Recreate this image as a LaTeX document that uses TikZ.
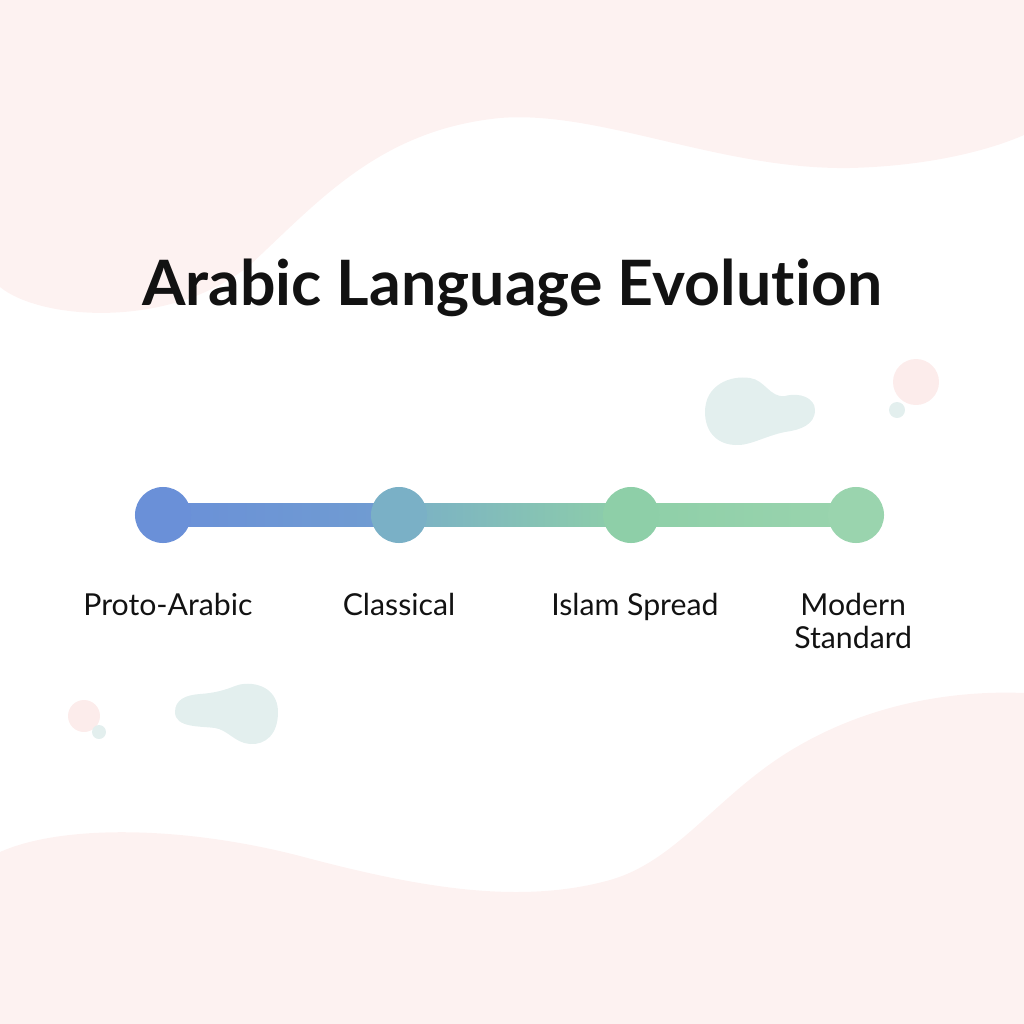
\documentclass[tikz,border=0pt]{standalone}
\usepackage{fontspec}
\setmainfont{Lato}[Ligatures=NoCommon]
\usetikzlibrary{backgrounds}
\definecolor{dotA}{HTML}{6A90D8}
\definecolor{dotB}{HTML}{7AB0C6}
\definecolor{dotC}{HTML}{8ECFA8}
\definecolor{dotD}{HTML}{9AD4AE}
\definecolor{wavepink}{HTML}{FDF2F1}
\definecolor{softpink}{HTML}{FCECEB}
\definecolor{softteal}{HTML}{E3EFEE}
\tikzstyle{dot} = [circle, minimum size=0.56cm, inner sep=0pt]
\tikzstyle{stage} = [inner sep=0pt, align=center, text=black!93, font=\fontsize{8.6pt}{9.4pt}\selectfont]
\tikzstyle{heading} = [inner sep=0pt, text=black!93, font=\fontsize{17.8pt}{22pt}\selectfont\bfseries]
\tikzstyle{wave} = [fill=wavepink]
\tikzstyle{blob} = [fill=softteal]
\tikzstyle{spot} = [fill=softpink]

\begin{document}
\begin{tikzpicture}[x=0.01cm, y=-0.01cm, node distance=0.77cm]
	\useasboundingbox (0,0) rectangle (1024,1024);
	% background waves
	\fill[wave] (0,0) -- (0,287) .. controls (40,320) and (170,330) .. (250,265) .. controls (320,200) and (380,130) .. (500,118) .. controls (600,110) and (720,170) .. (850,168) .. controls (930,166) and (990,150) .. (1024,135) -- (1024,0) -- cycle;
	\fill[wave] (0,852) .. controls (60,825) and (180,825) .. (300,856) .. controls (420,888) and (520,905) .. (610,880) .. controls (680,860) and (720,790) .. (800,745) .. controls (870,705) and (950,690) .. (1024,693) -- (1024,1024) -- (0,1024) -- cycle;
	
	% decorative blobs
	\fill[blob] (705,412) .. controls (705,385) and (730,375) .. (750,378) .. controls (765,380) and (770,398) .. (785,396) .. controls (800,392) and (815,398) .. (815,410) .. controls (815,425) and (800,430) .. (785,432) .. controls (765,436) and (750,446) .. (735,445) .. controls (715,444) and (705,430) .. (705,412) -- cycle;
	\fill[spot] (916,382) circle (23);
	\fill[blob] (897,410) circle (8);
	\fill[blob] (175,712) .. controls (175,700) and (185,695) .. (200,694) .. controls (215,693) and (225,690) .. (235,686) .. controls (250,680) and (278,685) .. (278,712) .. controls (278,735) and (265,745) .. (250,744) .. controls (235,743) and (228,730) .. (215,728) .. controls (200,726) and (175,728) .. (175,712) -- cycle;
	\fill[spot] (84,716) circle (16);
	\fill[blob] (99,732) circle (7);
	
	\node (title) [heading, anchor=base] at (512,305) {Arabic Language Evolution};
	
	% timeline
	\node (p1) [dot, fill=dotA] at (163,515) {};
	\node (p2) [dot, fill=dotB] at (399,515) {};
	\node (p3) [dot, fill=dotC] at (631,515) {};
	\node (p4) [dot, fill=dotD] at (856,515) {};
	
	\begin{scope}[on background layer]
		\shade[left color=dotA, right color=dotA!60!dotB] ([yshift=-3.4pt]p1.center) rectangle ([yshift=3.4pt]p2.center);
		\shade[left color=dotB, right color=dotC] ([yshift=-3.4pt]p2.center) rectangle ([yshift=3.4pt]p3.center);
		\shade[left color=dotC, right color=dotD] ([yshift=-3.4pt]p3.center) rectangle ([yshift=3.4pt]p4.center);
	\end{scope}
	
	\node (l1) [stage, below of=p1, anchor=north, xshift=1.4pt] {Proto-Arabic};
	\node (l2) [stage, below of=p2, anchor=north] {Classical};
	\node (l3) [stage, below of=p3, anchor=north, xshift=1.1pt] {Islam Spread};
	\node (l4) [stage, below of=p4, anchor=north, xshift=-0.8pt] {Modern\\Standard};
\end{tikzpicture}
\end{document}
